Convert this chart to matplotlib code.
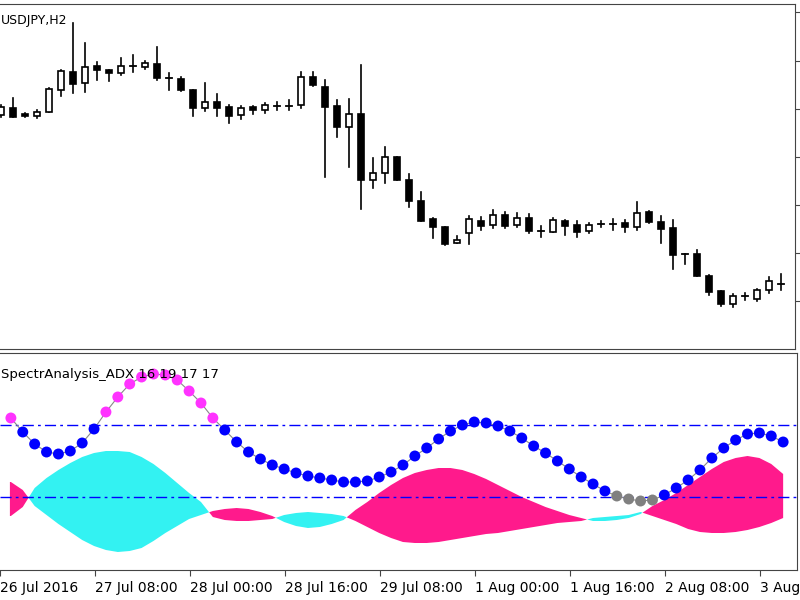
import matplotlib
matplotlib.use('Agg')
import matplotlib.pyplot as plt
import matplotlib.patches as patches
import numpy as np

plt.rcParams['font.family'] = ['Liberation Sans Narrow', 'DejaVu Sans']

# Candles (screen-y units, smaller = higher price)
bull = [1, 0, 0, 1, 1, 1, 0, 1, 0, 0, 1, 1, 1, 0, 0, 0, 0, 1, 0, 0, 1, 0, 1, 1, 1, 1, 0, 0, 0, 1, 0, 1, 1,
        0, 0, 0, 0, 0, 1, 1, 0, 1, 0, 1, 0, 1, 1, 0, 0, 1, 1, 1, 0, 1, 0, 0, 0, 0, 0, 0, 0, 1, 1, 1, 1, 1]
body_top = [107, 108, 114, 112, 89, 71, 72, 67, 66, 70, 66, 66, 63, 64, 78, 79, 90, 102, 102, 107, 108, 107,
            105, 106, 106, 77, 77, 87, 106, 114, 114, 173, 157, 157, 180, 201, 219, 227, 240, 219, 221, 215,
            215, 218, 218, 231, 220, 221, 225, 225, 224, 224, 223, 213, 212, 222, 228, 254, 254, 276, 291,
            296, 296, 290, 281, 284]
body_bot = [115, 117, 116, 116, 112, 90, 84, 83, 70, 73, 73, 66, 67, 78, 78, 90, 108, 108, 108, 116, 115, 110,
            110, 106, 106, 105, 85, 107, 127, 127, 180, 180, 173, 180, 201, 221, 227, 244, 243, 233, 226, 225,
            226, 225, 231, 231, 232, 226, 232, 231, 224, 224, 227, 227, 222, 229, 255, 254, 276, 292, 304,
            304, 296, 299, 290, 284]
high = [105, 98, 113, 110, 88, 70, 23, 43, 62, 70, 58, 55, 61, 47, 73, 77, 90, 83, 94, 105, 106, 106, 103, 102,
        100, 72, 72, 80, 100, 99, 65, 158, 147, 157, 174, 192, 218, 227, 236, 216, 217, 210, 212, 213, 214,
        226, 218, 220, 221, 223, 221, 219, 220, 202, 211, 216, 220, 254, 250, 275, 291, 294, 293, 289, 277, 274]
low = [117, 117, 117, 118, 112, 96, 93, 92, 80, 81, 75, 72, 69, 80, 90, 91, 116, 111, 116, 123, 119, 114, 113,
       110, 110, 108, 86, 177, 137, 167, 209, 188, 183, 180, 207, 221, 238, 245, 243, 244, 230, 228, 228, 227,
       233, 237, 232, 235, 237, 233, 227, 230, 232, 230, 223, 243, 269, 264, 276, 295, 306, 307, 300, 301, 293, 290]

# Indicator dots (screen-y) and their colour state
dots = [418, 432, 444, 452, 454, 451, 443, 429, 412, 397, 384, 377, 374, 375, 380, 391, 403, 418, 430, 442,
        452, 459, 465, 469, 473, 476, 478, 480, 482, 482, 481, 477, 472, 465, 456, 448, 439, 431, 425, 422,
        423, 426, 431, 438, 446, 453, 461, 469, 477, 484, 491, 496, 499, 501, 500, 495, 488, 480, 470, 458,
        448, 440, 434, 433, 436, 442]
dot_state = (['m'] + ['b'] * 7 + ['m'] * 10 + ['b'] * 33 + ['g'] * 4 + ['b'] * 11)

# Cloud envelope (screen-y) and which colour is on top
cloud_top = [482, 490, 488, 478, 470, 463, 457, 453, 451, 451, 452, 457, 464, 473, 483, 493, 502, 511, 509,
             508, 509, 512, 516, 515, 513, 512, 513, 514, 516, 510, 502, 493, 485, 478, 473, 470, 468, 468,
             470, 474, 479, 485, 491, 497, 502, 507, 511, 515, 518, 518, 517, 516, 515, 512, 506, 500, 493,
             485, 477, 469, 462, 458, 456, 458, 464, 474]
cloud_bot = [516, 507, 506, 515, 524, 532, 540, 546, 550, 552, 551, 548, 541, 533, 526, 519, 515, 517, 520,
             521, 521, 520, 519, 522, 526, 528, 527, 524, 520, 521, 527, 533, 538, 542, 543, 543, 542, 540,
             538, 536, 534, 533, 531, 529, 527, 525, 523, 522, 521, 521, 521, 520, 518, 514, 516, 520, 524,
             529, 532, 533, 533, 532, 530, 527, 523, 518]
cloud_up = [1, 1] + [0] * 15 + [1] * 6 + [0] * 6 + [1] * 20 + [0] * 5 + [1] * 12

levels = [425, 497]
tick_labels = ['26 Jul 2016', '27 Jul 08:00', '28 Jul 00:00', '28 Jul 16:00', '29 Jul 08:00',
               '1 Aug 00:00', '1 Aug 16:00', '2 Aug 08:00', '3 Aug 00:00']
first_tick = -11 / 12
tick_step = 8

n = len(bull)
x = np.arange(n)
fig = plt.figure(figsize=(8, 6), dpi=100)
ax1 = fig.add_axes([0, 1 - 349 / 600, 795 / 800, 345 / 600])
ax2 = fig.add_axes([0, 1 - 570 / 600, 797 / 800, 217 / 600])
xl = (-1 / 12, 794 / 12)

for ax in (ax1, ax2):
    ax.set_xlim(*xl)
    ax.spines['left'].set_visible(False)
    for s in ('top', 'right', 'bottom'):
        ax.spines[s].set_color('#444444')
    ax.set_yticks([])

# candles
w = 0.58
for i in range(n):
    ax1.plot([i, i], [high[i], low[i]], color='black', lw=1.2, zorder=1)
    h = body_bot[i] - body_top[i]
    if h < 1:
        ax1.plot([i - w / 2, i + w / 2], [body_top[i]] * 2, color='black', lw=1.3, zorder=2)
    else:
        rect = patches.Rectangle((i - w / 2, body_top[i]), w, h, facecolor='white' if bull[i] else 'black',
                                 edgecolor='black', lw=1.2, zorder=2)
        ax1.add_patch(rect)
ax1.set_ylim(349, 4)
ax1.set_xticks([])
ax1.yaxis.tick_right()
ax1.set_yticks([12, 61, 109, 157, 205, 253, 301])
ax1.tick_params(axis='y', direction='out', length=4, labelright=False, color='#444444')
ax1.text(0.001, 0.972, 'USDJPY,H2', transform=ax1.transAxes, fontsize=9, va='top', ha='left')

# cloud, extended flat to the left edge
up = np.array(cloud_up)
top = np.array(cloud_top, float)
bot = np.array(cloud_bot, float)
a = np.where(up == 1, top, bot)
b = np.where(up == 1, bot, top)
xe = np.concatenate([[xl[0]], x])
a = np.concatenate([[a[0]], a])
b = np.concatenate([[b[0]], b])
ax2.fill_between(xe, a, b, where=a <= b, interpolate=True, color='#ff1a8c', lw=0)
ax2.fill_between(xe, a, b, where=a >= b, interpolate=True, color='#33f2f2', lw=0)

for lv in levels:
    ax2.axhline(lv, color='#0000ff', lw=1, dashes=(8, 3, 2, 3))

ax2.plot(x, dots, color='#888888', lw=0.8, zorder=3)
cmap = {'m': '#ff33ff', 'b': '#0000ff', 'g': '#808080'}
ax2.scatter(x, dots, s=62, c=[cmap[s] for s in dot_state], zorder=4, lw=0)

ax2.set_ylim(570, 353)
ticks = [first_tick + tick_step * k for k in range(len(tick_labels))]
ax2.set_xticks(ticks)
ax2.set_xticklabels(tick_labels, fontsize=10, ha='left')
ax2.tick_params(axis='x', direction='out', length=4, pad=4, color='#444444')
ax2.text(0.001, 0.93, 'SpectrAnalysis_ADX 16 19 17 17', transform=ax2.transAxes, fontsize=9.5,
         va='top', ha='left', zorder=6)

fig.savefig('out.png', dpi=100)
